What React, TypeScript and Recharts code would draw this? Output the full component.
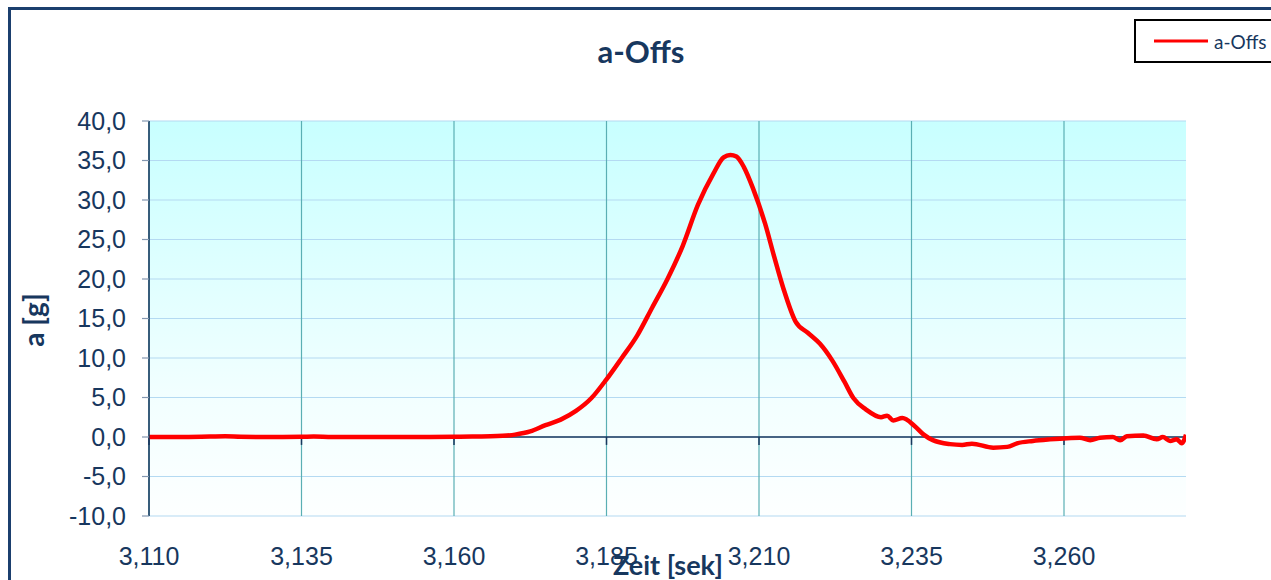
import React from 'react';
import {
  LineChart,
  Line,
  XAxis,
  YAxis,
  CartesianGrid,
  ReferenceLine,
  Legend,
} from 'recharts';

const timeSec: number[] = [
  3.110, 3.115, 3.120, 3.1225, 3.125, 3.130, 3.135, 3.137, 3.140, 3.145, 3.150, 3.155,
  3.160, 3.163, 3.166, 3.168, 3.170, 3.1725, 3.175, 3.1775, 3.180, 3.1825, 3.185,
  3.1875, 3.190, 3.1925, 3.195, 3.1975, 3.200, 3.2025, 3.2042, 3.2053, 3.2063, 3.2075, 3.209,
  3.211, 3.2125, 3.214, 3.216, 3.218, 3.220, 3.222, 3.224, 3.2255, 3.2275, 3.230,
  3.231, 3.232, 3.2335, 3.2355, 3.237, 3.2385, 3.2413, 3.2433, 3.2449, 3.2484,
  3.2507, 3.2523, 3.2549, 3.2577, 3.2605, 3.2626, 3.2643, 3.2659, 3.268, 3.2692,
  3.2703, 3.273, 3.2752, 3.2762, 3.2774, 3.2785, 3.2793, 3.280,
];

const accelG: number[] = [
  0.0, 0.0, 0.05, 0.08, 0.03, 0.0, 0.02, 0.05, 0.0, 0.0, 0.0, 0.0,
  0.03, 0.05, 0.08, 0.15, 0.3, 0.7, 1.5, 2.2, 3.3, 4.9, 7.3,
  10.0, 12.8, 16.4, 20.0, 24.2, 29.4, 33.3, 35.4, 35.7, 35.5, 34.2, 31.5,
  27.0, 22.8, 18.8, 14.6, 13.2, 11.8, 9.7, 7.0, 4.9, 3.5, 2.5,
  2.7, 2.1, 2.4, 1.4, 0.3, -0.4, -0.9, -1.0, -0.85, -1.35,
  -1.25, -0.8, -0.5, -0.3, -0.15, -0.1, -0.4, -0.1, 0.0, -0.4,
  0.1, 0.2, -0.3, 0.0, -0.5, -0.3, -0.8, 0.3,
];

const xTicks: number[] = [3.110, 3.135, 3.160, 3.185, 3.210, 3.235, 3.260];
const yTicks: number[] = [-10, -5, 0, 5, 10, 15, 20, 25, 30, 35, 40];
const xDomain: [number, number] = [3.11, 3.28];

const seriesName = 'a-Offs';
const chartTitle = 'a-Offs';
const xLabel = 'Zeit [sek]';
const yLabel = 'a [g]';

const data = timeSec.map((t, i) => ({ t, a: accelG[i] }));

const NAVY = '#17375E';
const FONT = '"Liberation Sans", Arial, sans-serif';
const BOLD_FONT = 'Lato, "Open Sans", sans-serif';

const fmtX = (v: number) => v.toFixed(3).replace('.', ',');
const fmtY = (v: number) => v.toFixed(1).replace('.', ',');

const LegendBox = () => (
  <div
    style={{
      border: '2.5px solid #000',
      background: '#fff',
      width: 160,
      height: 44,
      boxSizing: 'border-box',
      display: 'flex',
      alignItems: 'center',
    }}
  >
    <svg width={78} height={20} style={{ display: 'block' }}>
      <line x1={18} y1={10} x2={72} y2={10} stroke="#FF0000" strokeWidth={3} />
    </svg>
    <span style={{ fontFamily: BOLD_FONT, fontSize: 19, color: NAVY, marginLeft: 0 }}>
      {seriesName}
    </span>
  </div>
);

const vGen = (props: any) => {
  const scale = props?.xAxis?.scale;
  const off = props?.offset;
  return xTicks.map((t) => {
    try {
      if (typeof scale === 'function') return scale(t);
      if (scale && typeof scale.map === 'function') return scale.map(t);
    } catch (e) {
      // fall through
    }
    return off.left + ((t - xDomain[0]) / (xDomain[1] - xDomain[0])) * off.width;
  });
};

export default function App() {
  return (
    <div
      style={{
        position: 'absolute',
        left: 0,
        top: 0,
        width: 1271,
        height: 580,
        overflow: 'hidden',
        background: '#fff',
      }}
    >
      <div
        style={{
          position: 'absolute',
          left: 8,
          top: 7,
          width: 1400,
          height: 700,
          border: '3px solid #1B3F6E',
        }}
      />
      <div style={{ position: 'absolute', left: 0, top: 0 }}>
        <LineChart
          width={1271}
          height={580}
          data={data}
          margin={{ top: 121, right: 85, bottom: 0, left: 0 }}
        >
          <defs>
            <linearGradient id="plotBg" x1="0" y1="0" x2="0" y2="1">
              <stop offset="0%" stopColor="#C8FFFF" />
              <stop offset="70%" stopColor="#F2FFFF" />
              <stop offset="100%" stopColor="#FDFFFF" />
            </linearGradient>
          </defs>
          <CartesianGrid
            vertical={false}
            stroke="#B4DAF2"
            strokeWidth={1.2}
            fill="url(#plotBg)"
            fillOpacity={1}
          />
          <CartesianGrid
            horizontal={false}
            stroke="#5AAFB4"
            strokeWidth={1.2}
            verticalCoordinatesGenerator={vGen}
          />
          <XAxis
            type="number"
            dataKey="t"
            domain={xDomain}
            ticks={xTicks}
            allowDataOverflow
            tickFormatter={fmtX}
            axisLine={false}
            tickLine={false}
            tickSize={0}
            tickMargin={31}
            height={64}
            tick={{ fill: NAVY, fontSize: 25, fontFamily: FONT }}
            interval={0}
          />
          <YAxis
            type="number"
            domain={[-10, 40]}
            ticks={yTicks}
            allowDataOverflow
            tickFormatter={fmtY}
            width={149}
            axisLine={{ stroke: NAVY, strokeWidth: 1.5 }}
            tickLine={{ stroke: '#8497B0', strokeWidth: 1.2 }}
            tickSize={7}
            tickMargin={16}
            tick={{ fill: NAVY, fontSize: 25, fontFamily: FONT }}
            interval={0}
          />
          <ReferenceLine y={0} stroke={NAVY} strokeWidth={1.5} />
          {xTicks.map((t) => (
            <ReferenceLine
              key={t}
              segment={[
                { x: t, y: 0 },
                { x: t, y: -1 },
              ]}
              stroke={NAVY}
              strokeWidth={1.5}
            />
          ))}
          <Line
            type="monotone"
            dataKey="a"
            name={seriesName}
            stroke="#FF0000"
            strokeWidth={4.5}
            dot={false}
            activeDot={false}
            isAnimationActive={false}
          />
          <Legend
            layout="vertical"
            align="center"
            verticalAlign="middle"
            content={() => <LegendBox />}
            wrapperStyle={{ left: 1134, top: 19, width: 160, height: 44 }}
          />
        </LineChart>
      </div>
      <svg
        width={1271}
        height={580}
        style={{ position: 'absolute', left: 0, top: 0, pointerEvents: 'none' }}
      >
        <text
          x={641}
          y={63}
          textAnchor="middle"
          fontFamily={BOLD_FONT}
          fontWeight={700}
          fontSize={31}
          fill={NAVY}
        >
          {chartTitle}
        </text>
        <text
          x={668}
          y={575}
          textAnchor="middle"
          fontFamily={BOLD_FONT}
          fontWeight={700}
          fontSize={27}
          fill={NAVY}
        >
          {xLabel}
        </text>
        <text
          x={0}
          y={0}
          transform="translate(44,320) rotate(-90)"
          textAnchor="middle"
          fontFamily={BOLD_FONT}
          fontWeight={700}
          fontSize={28}
          fill={NAVY}
        >
          {yLabel}
        </text>
      </svg>
    </div>
  );
}
